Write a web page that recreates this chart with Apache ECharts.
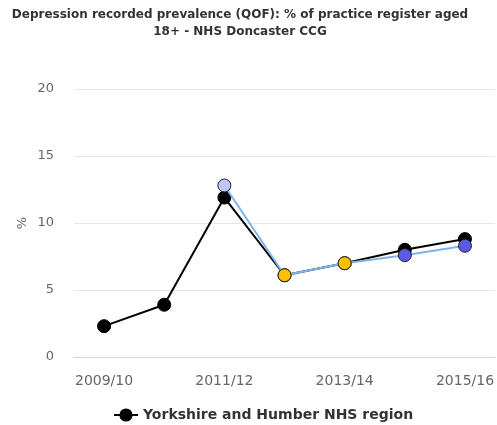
<!DOCTYPE html>
<html><head><meta charset="utf-8">
<script src="https://cdn.jsdelivr.net/npm/echarts@6/dist/echarts.min.js"></script>
<style>html,body{margin:0;padding:0;background:#fff}#c{width:497px;height:425px}</style>
</head><body><div id="c"></div>
<script>
var titleText = 'Depression recorded prevalence (QOF): % of practice register aged\n18+ - NHS Doncaster CCG';
var categories = ['2009/10','2010/11','2011/12','2012/13','2013/14','2014/15','2015/16'];
var regionName = 'Yorkshire and Humber NHS region';
var regionValues = [2.3, 3.9, 11.9, 6.1, 7.0, 8.0, 8.8];
var ccgName = 'NHS Doncaster CCG';
var ccgValues = [null, null, 12.8, 6.1, 7.0, 7.6, 8.3];
var ccgMarkerColors = [null, null, '#bfc6f7', '#ffc000', '#ffc000', '#5b5be6', '#5b5be6'];
var yTicks = [0, 5, 10, 15, 20];

var font = 'DejaVu Sans';
var chart = echarts.init(document.getElementById('c'), null, {renderer:'canvas'});
chart.setOption({
  animation: false,
  title: {
    text: titleText, left: 240, top: 6, padding: 0, textAlign: 'center',
    textStyle: {fontFamily: font, fontSize: 12, fontWeight: 'bold', color: '#333', lineHeight: 17}
  },
  legend: {
    data: [regionName], top: 408, left: 113, itemWidth: 24, itemHeight: 14, itemGap: 10,
    padding: [0, 0, 0, 0],
    textStyle: {fontFamily: font, fontSize: 14, fontWeight: 'bold', color: '#333'}
  },
  grid: {left: 74, right: 1, top: 89, bottom: 68},
  xAxis: {
    type: 'category', data: categories, boundaryGap: true,
    axisLine: {lineStyle: {color: '#ccd6eb'}},
    axisTick: {alignWithLabel: true, interval: 0, lineStyle: {color: '#ccd6eb'}, length: 6},
    axisLabel: {interval: 1, fontFamily: font, fontSize: 14, color: '#666', margin: 17}
  },
  yAxis: {
    type: 'value', min: yTicks[0], max: yTicks[yTicks.length-1], interval: 5,
    name: '%', nameLocation: 'middle', nameGap: 45, nameRotate: 90, nameMoveOverlap: false,
    nameTextStyle: {fontFamily: font, fontSize: 13, color: '#666'},
    axisLine: {show: false}, axisTick: {show: false},
    splitLine: {lineStyle: {color: '#e6e6e6'}},
    axisLabel: {fontFamily: font, fontSize: 13, color: '#666', margin: 20}
  },
  series: [
    {
      name: regionName, type: 'line', data: regionValues, z: 2,
      symbol: 'circle', symbolSize: 13,
      lineStyle: {color: '#000', width: 2},
      itemStyle: {color: '#000', borderColor: '#000', borderWidth: 1}
    },
    {
      name: ccgName, type: 'line', z: 3,
      data: ccgValues.map(function(v, i){ return v == null ? null : {value: v, itemStyle: {color: ccgMarkerColors[i]}}; }),
      symbol: 'circle', symbolSize: 13,
      lineStyle: {color: '#7cb5ec', width: 2},
      itemStyle: {color: '#7cb5ec', borderColor: '#222', borderWidth: 1}
    }
  ]
});
</script></body></html>
